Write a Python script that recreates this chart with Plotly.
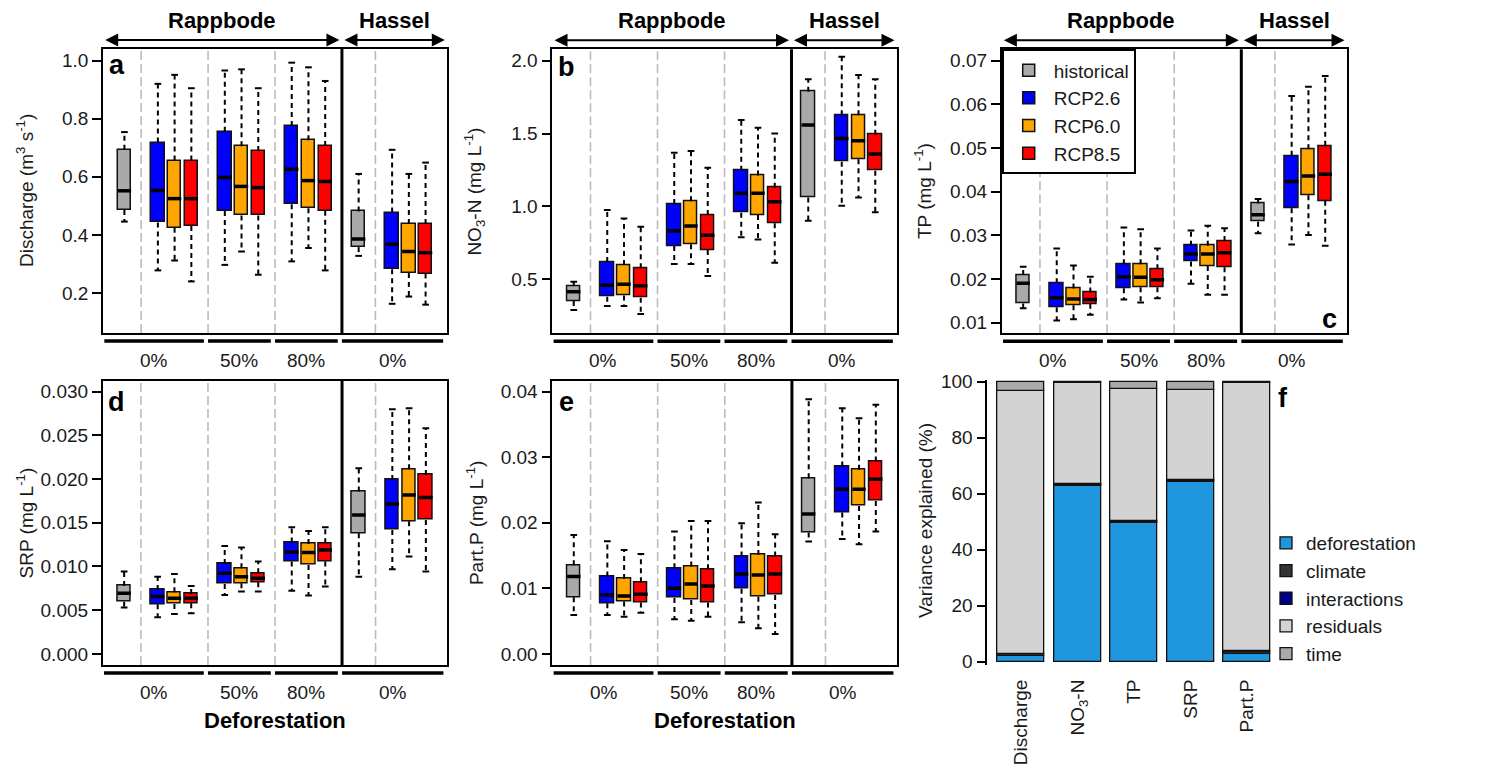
import plotly.graph_objects as go

W, H = 1511, 765
OFF = 8  # page body margin of the html page: figure is drawn 8 px right/down
FONT = "Liberation Sans, Arial, sans-serif"

# ---------------- data: box statistics (lower whisker, q1, median, q3, upper whisker)
# historical -> [Rappbode, Hassel]; RCP series -> [Rappbode 0%, 50%, 80%, Hassel 0%]
discharge_hist = [(0.446, 0.486, 0.552, 0.693, 0.754), (0.328, 0.358, 0.386, 0.481, 0.610)]
discharge_rcp26 = [(0.278, 0.443, 0.553, 0.718, 0.920), (0.297, 0.482, 0.598, 0.755, 0.966),
                   (0.309, 0.506, 0.626, 0.775, 0.993), (0.163, 0.282, 0.368, 0.477, 0.693)]
discharge_rcp60 = [(0.312, 0.425, 0.525, 0.656, 0.951), (0.343, 0.467, 0.567, 0.705, 0.970),
                   (0.355, 0.492, 0.587, 0.726, 0.977), (0.188, 0.269, 0.343, 0.438, 0.610)]
discharge_rcp85 = [(0.240, 0.431, 0.525, 0.656, 0.905), (0.263, 0.467, 0.563, 0.689, 0.905),
                   (0.278, 0.483, 0.584, 0.706, 0.930), (0.160, 0.267, 0.339, 0.438, 0.649)]

no3_hist = [(0.290, 0.351, 0.415, 0.454, 0.484), (0.902, 1.062, 1.559, 1.787, 1.872)]
no3_rcp26 = [(0.317, 0.381, 0.459, 0.619, 0.976), (0.605, 0.729, 0.834, 1.017, 1.369),
             (0.788, 0.957, 1.090, 1.245, 1.593), (1.005, 1.307, 1.467, 1.625, 2.027)]
no3_rcp60 = [(0.317, 0.390, 0.466, 0.598, 0.918), (0.605, 0.740, 0.866, 1.035, 1.380),
             (0.774, 0.941, 1.090, 1.213, 1.540), (1.062, 1.323, 1.451, 1.625, 1.902)]
no3_rcp85 = [(0.262, 0.374, 0.456, 0.576, 0.861), (0.523, 0.702, 0.802, 0.941, 1.266),
             (0.614, 0.884, 1.033, 1.129, 1.501), (0.960, 1.245, 1.360, 1.492, 1.872)]

tp_hist = [(0.0133, 0.0144, 0.0190, 0.0209, 0.0228), (0.0305, 0.0331, 0.0347, 0.0373, 0.0383)]
tp_rcp26 = [(0.0105, 0.0135, 0.0157, 0.0190, 0.0270), (0.0153, 0.0179, 0.0205, 0.0234, 0.0318),
            (0.0189, 0.0240, 0.0257, 0.0276, 0.0311), (0.0279, 0.0362, 0.0423, 0.0482, 0.0619)]
tp_rcp60 = [(0.0108, 0.0140, 0.0154, 0.0178, 0.0231), (0.0146, 0.0181, 0.0204, 0.0234, 0.0314),
            (0.0164, 0.0230, 0.0257, 0.0276, 0.0322), (0.0301, 0.0392, 0.0436, 0.0497, 0.0640)]
tp_rcp85 = [(0.0118, 0.0143, 0.0153, 0.0169, 0.0205), (0.0156, 0.0181, 0.0198, 0.0222, 0.0270),
            (0.0164, 0.0227, 0.0260, 0.0287, 0.0316), (0.0276, 0.0379, 0.0440, 0.0505, 0.0665)]

srp_hist = [(0.00530, 0.00598, 0.00694, 0.00778, 0.00942), (0.00884, 0.01380, 0.01590, 0.01856, 0.02123)]
srp_rcp26 = [(0.00419, 0.00568, 0.00656, 0.00732, 0.00884), (0.00675, 0.00801, 0.00922, 0.01029, 0.01235),
             (0.00724, 0.01056, 0.01163, 0.01273, 0.01449), (0.00968, 0.01418, 0.01715, 0.01990, 0.02798)]
srp_rcp60 = [(0.00457, 0.00572, 0.00637, 0.00705, 0.00915), (0.00713, 0.00808, 0.00884, 0.00980, 0.01216),
             (0.00667, 0.01018, 0.01159, 0.01258, 0.01407), (0.01113, 0.01517, 0.01818, 0.02112, 0.02809)]
srp_rcp85 = [(0.00465, 0.00579, 0.00637, 0.00686, 0.00778), (0.00713, 0.00820, 0.00865, 0.00922, 0.01056),
             (0.00770, 0.01056, 0.01189, 0.01266, 0.01449), (0.00942, 0.01532, 0.01788, 0.02047, 0.02581)]

partp_hist = [(0.00595, 0.00864, 0.01179, 0.01352, 0.01815), (0.01713, 0.01850, 0.02135, 0.02679, 0.03883)]
partp_rcp26 = [(0.00595, 0.00773, 0.00900, 0.01179, 0.01718), (0.00529, 0.00854, 0.01001, 0.01306, 0.01865),
               (0.00483, 0.00996, 0.01220, 0.01484, 0.01993), (0.01754, 0.02155, 0.02511, 0.02857, 0.03746)]
partp_rcp60 = [(0.00569, 0.00798, 0.00884, 0.01144, 0.01586), (0.00508, 0.00823, 0.01067, 0.01332, 0.02028),
               (0.00391, 0.00874, 0.01205, 0.01510, 0.02308), (0.01672, 0.02257, 0.02511, 0.02806, 0.03594)]
partp_rcp85 = [(0.00630, 0.00783, 0.00910, 0.01093, 0.01525), (0.00569, 0.00783, 0.01037, 0.01291, 0.02028),
               (0.00305, 0.00900, 0.01220, 0.01484, 0.01825), (0.01865, 0.02333, 0.02663, 0.02933, 0.03797)]

series_names = ["historical", "RCP2.6", "RCP6.0", "RCP8.5"]
group_labels = ["0%", "50%", "80%", "0%"]
catchments = ["Rappbode", "Hassel"]

# panel f: variance decomposition (%)
f_variables = ["Discharge", "NO<sub>3</sub>-N", "TP", "SRP", "Part.P"]
f_components = ["deforestation", "climate", "interactions", "residuals", "time"]
var_deforestation = [2.0, 62.6, 49.5, 64.3, 2.9]
var_climate = [0.6, 0.5, 0.4, 0.4, 0.6]
var_interactions = [0.1, 0.2, 0.2, 0.2, 0.2]
var_residuals = [94.0, 36.3, 47.3, 32.1, 95.9]
var_time = [3.3, 0.4, 2.6, 3.0, 0.4]

# ---------------- styles / layout helpers
series_colors = ["#A9A9A9", "#0000FF", "#FFA500", "#FF0000"]
comp_colors = ["#1F96DD", "#333333", "#00008B", "#D3D3D3", "#A9A9A9"]

# slot layout on the box-plot x axis (unit slots)
hist_slots = [1, 15]
rcp_group_starts = [3, 7, 11, 17]
dashed_seps = [2, 6, 10, 16]
thick_sep = 14
underline_segments = [(-0.2, 5.75), (6.0, 9.75), (10.0, 13.75), (14.0, 20.05)]
XR = [-0.28, 20.28]
BOXW = 0.8

panels = [
    dict(name="a", hist=discharge_hist, rcp=[discharge_rcp26, discharge_rcp60, discharge_rcp85],
         title="Discharge (m<sup>3</sup> s<sup>-1</sup>)", yr=[0.0625, 1.040],
         ticks=[0.2, 0.4, 0.6, 0.8, 1.0], fmt="{:.1f}",
         px=(103, 447, 49, 333), lab=(116.7, 65), header=True, footer=False),
    dict(name="b", hist=no3_hist, rcp=[no3_rcp26, no3_rcp60, no3_rcp85],
         title="NO<sub>3</sub>-N (mg L<sup>-1</sup>)", yr=[0.130, 2.078],
         ticks=[0.5, 1.0, 1.5, 2.0], fmt="{:.1f}",
         px=(552.3, 896.7, 49.3, 333.3), lab=(566.7, 66.7), header=True, footer=False),
    dict(name="c", hist=tp_hist, rcp=[tp_rcp26, tp_rcp60, tp_rcp85],
         title="TP (mg L<sup>-1</sup>)", yr=[0.00756, 0.0726],
         ticks=[0.01, 0.02, 0.03, 0.04, 0.05, 0.06, 0.07], fmt="{:.2f}",
         px=(1001.7, 1346.7, 49.3, 333.3), lab=(1329.3, 319.3), header=True, footer=False),
    dict(name="d", hist=srp_hist, rcp=[srp_rcp26, srp_rcp60, srp_rcp85],
         title="SRP (mg L<sup>-1</sup>)", yr=[-0.00126, 0.03126],
         ticks=[0.0, 0.005, 0.010, 0.015, 0.020, 0.025, 0.030], fmt="{:.3f}",
         px=(102.7, 447.3, 380.5, 665), lab=(116.7, 401.7), header=False, footer=True),
    dict(name="e", hist=partp_hist, rcp=[partp_rcp26, partp_rcp60, partp_rcp85],
         title="Part.P (mg L<sup>-1</sup>)", yr=[-0.00168, 0.04168],
         ticks=[0.0, 0.01, 0.02, 0.03, 0.04], fmt="{:.2f}",
         px=(552.3, 897.3, 380.5, 665), lab=(566.7, 401.7), header=False, footer=True),
]

fig = go.Figure()
layout = dict(shapes=[], annotations=[])
TXT = dict(family=FONT, size=19, color="#1a1a1a")


def pxx(x):
    return (x - OFF) / W


def pxy(y):
    return 1 - (y - OFF) / H


def dom_x(l, r):
    return [pxx(l), pxx(r)]


def dom_y(t, b):
    return [pxy(b), pxy(t)]


for i, p in enumerate(panels):
    k = i + 1
    xa, ya = ("x" if k == 1 else f"x{k}"), ("y" if k == 1 else f"y{k}")
    l, r, t, b = p["px"]
    layout[f"xaxis{k if k > 1 else ''}"] = dict(
        domain=dom_x(l, r), range=XR, anchor=ya, showline=True, mirror=True,
        linecolor="black", linewidth=1.6, showticklabels=False, ticks="",
        showgrid=False, zeroline=False, fixedrange=True, automargin=False)
    layout[f"yaxis{k if k > 1 else ''}"] = dict(
        domain=dom_y(t, b), range=p["yr"], anchor=xa, showline=True, mirror=True,
        linecolor="black", linewidth=1.6, ticks="outside", ticklen=9, tickwidth=1.5,
        tickcolor="black", tickvals=p["ticks"], ticktext=[p["fmt"].format(v) for v in p["ticks"]],
        tickfont=TXT, showgrid=False, zeroline=False, fixedrange=True, automargin=False)

    # collect positions and stats for all boxes in this panel
    all_series = [(0, hist_slots, p["hist"])]
    for s, data in enumerate(p["rcp"]):
        all_series.append((s + 1, [g + s for g in rcp_group_starts], data))

    wx, wy, cx, cy, mx, my = [], [], [], [], [], []
    for s, pos, data in all_series:
        for xpos, (lo, q1, med, q3, hi) in zip(pos, data):
            wx += [xpos, xpos, None, xpos, xpos, None]
            wy += [q3, hi, None, q1, lo, None]
            cx += [xpos - BOXW / 4, xpos + BOXW / 4, None, xpos - BOXW / 4, xpos + BOXW / 4, None]
            cy += [hi, hi, None, lo, lo, None]
            mx += [xpos - BOXW / 2, xpos + BOXW / 2, None]
            my += [med, med, None]
        fig.add_trace(go.Bar(
            x=pos, y=[d[3] - d[1] for d in data], base=[d[1] for d in data], width=BOXW,
            marker=dict(color=series_colors[s], line=dict(color="#111111", width=1.5)),
            name=series_names[s], showlegend=(i == 0), legend="legend",
            xaxis=xa, yaxis=ya, hoverinfo="skip"))
    fig.add_trace(go.Scatter(x=wx, y=wy, mode="lines", xaxis=xa, yaxis=ya, showlegend=False,
                             line=dict(color="black", width=2, dash="5px,4px"), hoverinfo="skip"))
    fig.add_trace(go.Scatter(x=cx, y=cy, mode="lines", xaxis=xa, yaxis=ya, showlegend=False,
                             line=dict(color="black", width=2), hoverinfo="skip"))
    fig.add_trace(go.Scatter(x=mx, y=my, mode="lines", xaxis=xa, yaxis=ya, showlegend=False,
                             line=dict(color="black", width=3.5), hoverinfo="skip"))

    yd = f"{ya} domain"
    for sx in dashed_seps:
        layout["shapes"].append(dict(type="line", xref=xa, yref=yd, x0=sx, x1=sx, y0=0, y1=1,
                                     line=dict(color="#BBBBBB", width=1.6, dash="9px,4px"),
                                     layer="below"))
    layout["shapes"].append(dict(type="line", xref=xa, yref=yd, x0=thick_sep, x1=thick_sep,
                                 y0=0, y1=1, line=dict(color="black", width=3)))
    hpx = b - t
    unit_px = (r - l) / (XR[1] - XR[0])
    for (g0, g1), gl in zip(underline_segments, group_labels):
        layout["shapes"].append(dict(type="line", xref=xa, yref=yd, x0=g0, x1=g1,
                                     y0=-8 / hpx, y1=-8 / hpx, line=dict(color="black", width=3.5)))
        layout["annotations"].append(dict(xref=xa, yref=yd, x=(g0 + g1) / 2, y=-27.5 / hpx,
                                          text=gl, showarrow=False, font=TXT,
                                          xanchor="center", yanchor="middle"))
    # panel letter
    lx, ly = p["lab"]
    layout["annotations"].append(dict(xref="paper", yref="paper", x=pxx(lx), y=pxy(ly),
                                      text=f"<b>{p['name']}</b>", showarrow=False,
                                      font=dict(family=FONT, size=27, color="black"),
                                      xanchor="center", yanchor="middle"))
    # y title
    layout["annotations"].append(dict(xref="paper", yref="paper", x=pxx(l - 78),
                                      y=pxy((t + b) / 2), text=p["title"], textangle=-90,
                                      showarrow=False, font=TXT, xanchor="center", yanchor="middle"))
    if p["header"]:
        ya_dom = 1 + 9 / hpx
        head_len = 13 / unit_px      # arrow-head length (slot units)
        head_half = 6.5 / hpx        # arrow-head half height (domain fraction)
        spans = [(-0.15, thick_sep - 0.15), (thick_sep + 0.15, XR[1] - 0.13)]
        for (a0, a1), cname in zip(spans, catchments):
            layout["shapes"].append(dict(type="line", xref=xa, yref=yd, x0=a0 + head_len / 2,
                                         x1=a1 - head_len / 2, y0=ya_dom, y1=ya_dom,
                                         line=dict(color="black", width=2)))
            for tip, sgn in ((a0, 1), (a1, -1)):
                bx = tip + sgn * head_len
                layout["shapes"].append(dict(
                    type="path", xref=xa, yref=yd, fillcolor="black", line=dict(width=0),
                    path=f"M {tip},{ya_dom} L {bx},{ya_dom + head_half} L {bx},{ya_dom - head_half} Z"))
            layout["annotations"].append(dict(
                xref=xa, yref=yd, x=(a0 + a1) / 2, y=1 + 28.5 / hpx, text=f"<b>{cname}</b>",
                showarrow=False, font=dict(family=FONT, size=22, color="black"),
                xanchor="center", yanchor="middle"))
    if p["footer"]:
        layout["annotations"].append(dict(
            xref="paper", yref="paper", x=pxx((l + r) / 2), y=pxy(720),
            text="<b>Deforestation</b>", showarrow=False,
            font=dict(family=FONT, size=22, color="black"), xanchor="center", yanchor="middle"))

# ---------------- panel f: stacked variance bars
f_values = [var_deforestation, var_climate, var_interactions, var_residuals, var_time]
base = [0.0] * len(f_variables)
for comp, vals, col in zip(f_components, f_values, comp_colors):
    fig.add_trace(go.Bar(
        x=f_variables, y=vals, base=list(base), width=0.83, name=comp,
        marker=dict(color=col, line=dict(color="#111111", width=1.3)),
        legend="legend2", xaxis="x6", yaxis="y6", hoverinfo="skip"))
    base = [b0 + v for b0, v in zip(base, vals)]

layout["xaxis6"] = dict(domain=dom_x(987.3, 1280.9), range=[-0.6, 4.6], anchor="y6",
                        type="category", categoryorder="array", categoryarray=f_variables,
                        showline=False, ticks="outside", ticklen=6, tickcolor="rgba(0,0,0,0)",
                        tickangle=-90, tickfont=TXT,
                        showgrid=False, zeroline=False, fixedrange=True, automargin=False)
layout["yaxis6"] = dict(domain=dom_y(380, 665), range=[-1.2, 100.6], anchor="x6",
                        showline=True, linecolor="black", linewidth=1.6, ticks="outside",
                        ticklen=9, tickwidth=1.5, tickcolor="black",
                        tickvals=[0, 20, 40, 60, 80, 100], tickfont=TXT, showgrid=False,
                        zeroline=False, fixedrange=True, automargin=False)
layout["annotations"].append(dict(xref="paper", yref="paper", x=pxx(925), y=pxy(521),
                                  text="Variance explained (%)", textangle=-90, showarrow=False,
                                  font=TXT, xanchor="center", yanchor="middle"))
layout["annotations"].append(dict(xref="paper", yref="paper", x=pxx(1283), y=pxy(398),
                                  text="<b>f</b>", showarrow=False,
                                  font=dict(family=FONT, size=27, color="black"),
                                  xanchor="center", yanchor="middle"))

fig.update_layout(
    **layout,
    width=W, height=H, autosize=False,
    margin=dict(l=0, r=0, t=0, b=0, autoexpand=False),
    paper_bgcolor="white", plot_bgcolor="white",
    barmode="overlay", bargap=0,
    font=dict(family=FONT, color="#1a1a1a"),
    legend=dict(x=pxx(1001.7), y=pxy(49.3), xanchor="left", yanchor="top",
                bgcolor="white", bordercolor="black", borderwidth=2, itemwidth=40,
                font=dict(family=FONT, size=19, color="#1a1a1a"), traceorder="normal"),
    legend2=dict(x=pxx(1266), y=pxy(524), xanchor="left", yanchor="top",
                 bgcolor="rgba(0,0,0,0)", borderwidth=0,
                 font=dict(family=FONT, size=19, color="#1a1a1a"), traceorder="normal"),
)

fig.write_html("out.html")
